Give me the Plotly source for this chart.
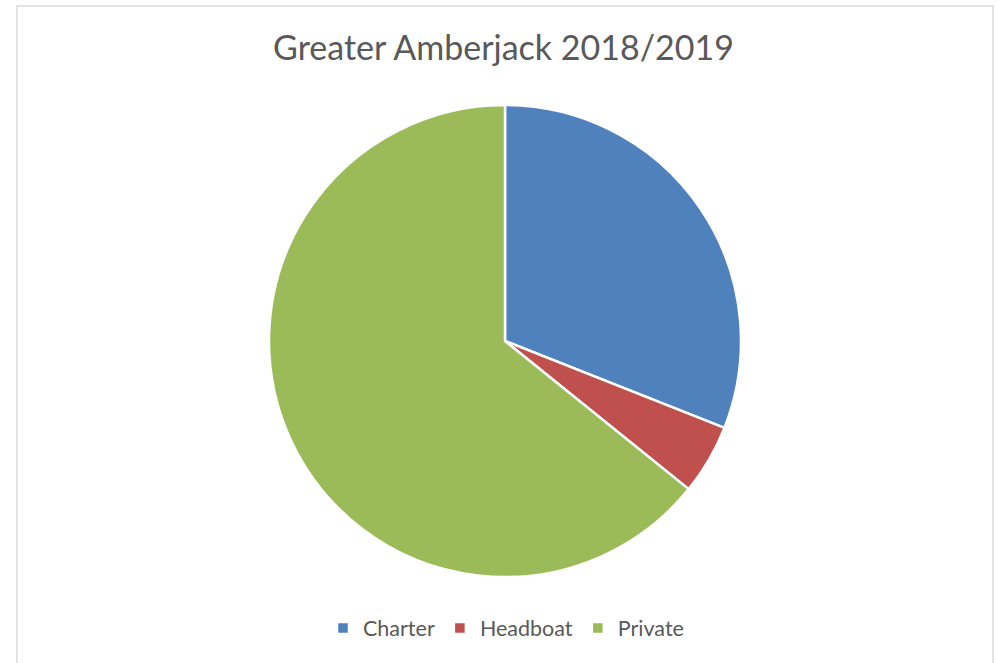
import plotly.graph_objects as go

categories = ["Charter", "Headboat", "Private"]
values = [31.0, 4.8, 64.2]
colors = ["#4F81BD", "#C0504D", "#9BBB59"]

W, H = 997, 663
cx, cy, r = 505, 341, 236

fig = go.Figure(go.Pie(
    labels=categories,
    values=values,
    sort=False,
    direction="clockwise",
    rotation=0,
    textinfo="none",
    hoverinfo="label+value",
    marker=dict(colors=colors, line=dict(color="white", width=2.5)),
    domain=dict(x=[(cx - r) / W, (cx + r) / W], y=[1 - (cy + r) / H, 1 - (cy - r) / H]),
))

fig.update_layout(
    width=W, height=H,
    margin=dict(l=0, r=0, t=0, b=0),
    paper_bgcolor="white",
    title=dict(text="Greater Amberjack 2018/2019", x=503.5 / W, xanchor="center",
               y=1 - 48 / H, yanchor="middle",
               font=dict(family="Lato", size=34, color="#595959")),
    legend=dict(orientation="h", x=506 / W, xanchor="center", y=1 - 628 / H,
                yanchor="middle",
                font=dict(family="Lato", size=21.5, color="#595959")),
    shapes=[dict(type="rect", xref="paper", yref="paper", x0=17 / W, x1=993 / W,
                 y0=-0.05, y1=1 - 6 / H, line=dict(color="#D9D9D9", width=1.5))],
)

fig.write_html(
    "out.html",
    config={"displayModeBar": False},
    post_script="document.body.style.margin='0px';document.body.style.overflow='hidden';",
)
